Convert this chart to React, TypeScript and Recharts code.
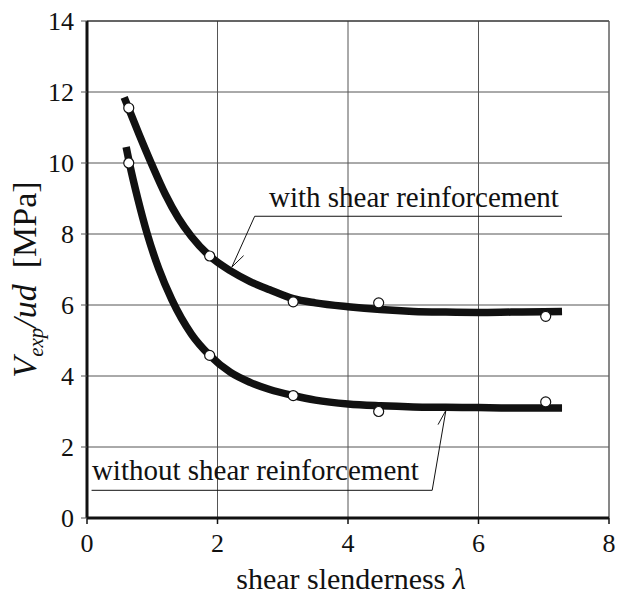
import React from "react";
import {
  ComposedChart,
  Line,
  Scatter,
  XAxis,
  YAxis,
  CartesianGrid,
  ReferenceLine,
  ReferenceDot,
} from "recharts";

const lambdaTicks = [0, 2, 4, 6, 8];
const stressTicks = [0, 2, 4, 6, 8, 10, 12, 14];

// fitted curves
const withCurve = [
  { x: 0.57, y: 11.85 },
  { x: 0.8, y: 10.8 },
  { x: 1.0, y: 9.93 },
  { x: 1.2, y: 9.12 },
  { x: 1.4, y: 8.45 },
  { x: 1.6, y: 7.93 },
  { x: 1.88, y: 7.38 },
  { x: 2.2, y: 6.96 },
  { x: 2.5, y: 6.66 },
  { x: 2.8, y: 6.43 },
  { x: 3.16, y: 6.18 },
  { x: 3.5, y: 6.06 },
  { x: 4.0, y: 5.95 },
  { x: 4.5, y: 5.87 },
  { x: 5.0, y: 5.82 },
  { x: 5.5, y: 5.8 },
  { x: 6.0, y: 5.79 },
  { x: 6.5, y: 5.8 },
  { x: 7.0, y: 5.81 },
  { x: 7.28, y: 5.82 },
];

const withoutCurve = [
  { x: 0.6, y: 10.45 },
  { x: 0.65, y: 10.0 },
  { x: 0.78, y: 8.98 },
  { x: 0.92, y: 8.02 },
  { x: 1.1, y: 7.02 },
  { x: 1.3, y: 6.15 },
  { x: 1.6, y: 5.18 },
  { x: 1.88, y: 4.58 },
  { x: 2.2, y: 4.1 },
  { x: 2.5, y: 3.82 },
  { x: 2.8, y: 3.62 },
  { x: 3.16, y: 3.45 },
  { x: 3.5, y: 3.32 },
  { x: 4.0, y: 3.21 },
  { x: 4.5, y: 3.16 },
  { x: 5.0, y: 3.13 },
  { x: 5.5, y: 3.12 },
  { x: 6.0, y: 3.11 },
  { x: 6.5, y: 3.1 },
  { x: 7.0, y: 3.1 },
  { x: 7.28, y: 3.1 },
];

// test results
const withTests = [
  { x: 0.64, y: 11.55 },
  { x: 1.88, y: 7.38 },
  { x: 3.16, y: 6.09 },
  { x: 4.47, y: 6.06 },
  { x: 7.03, y: 5.68 },
];

const withoutTests = [
  { x: 0.64, y: 10.0 },
  { x: 1.88, y: 4.58 },
  { x: 3.16, y: 3.45 },
  { x: 4.47, y: 3.0 },
  { x: 7.03, y: 3.27 },
];

const FONT = "Liberation Serif, Times New Roman, serif";

const openCircle = (p: any) => (
  <circle cx={p.cx} cy={p.cy} r={5} fill="#fff" stroke="#111" strokeWidth={1.2} />
);

const note = (txt: string) => (p: any) => (
  <text x={p.cx} y={p.cy} textAnchor="middle" fontFamily={FONT} fontSize={29} fill="#111">
    {txt}
  </text>
);

function YTitle({ viewBox }: any) {
  const cx = viewBox.x + 36;
  const cy = viewBox.y + viewBox.height / 2 + 10;
  return (
    <text
      x={cx}
      y={cy}
      transform={`rotate(-90, ${cx}, ${cy})`}
      textAnchor="middle"
      fontFamily={FONT}
      fontSize={34}
      fill="#111"
    >
      <tspan fontStyle="italic">V</tspan>
      <tspan fontStyle="italic" fontSize={21} dy={7}>exp</tspan>
      <tspan fontStyle="italic" dy={-7}>/ud</tspan>
      <tspan dx={16}>[MPa]</tspan>
    </text>
  );
}

function XTitle({ viewBox }: any) {
  return (
    <text
      x={viewBox.x + viewBox.width / 2 + 3}
      y={viewBox.y + 71}
      textAnchor="middle"
      fontFamily={FONT}
      fontSize={30}
      fill="#111"
    >
      shear slenderness{" "}
      <tspan fontStyle="italic">λ</tspan>
    </text>
  );
}

export default function App() {
  return (
    <div style={{ position: "absolute", left: 0, top: 0, background: "#fff", fontFamily: FONT }}>
      <ComposedChart width={618} height={599} margin={{ top: 21, right: 9, bottom: 0, left: 0 }}>
        <CartesianGrid stroke="#555" strokeWidth={1} />
        <XAxis
          type="number"
          dataKey="x"
          domain={[0, 8]}
          ticks={lambdaTicks}
          height={81}
          axisLine={{ stroke: "#111", strokeWidth: 3 }}
          tickLine={{ stroke: "#111", strokeWidth: 1.5 }}
          tickSize={6}
          tickMargin={10}
          tick={{ fontFamily: FONT, fontSize: 26, fill: "#111" }}
          label={<XTitle />}
        />
        <YAxis
          type="number"
          dataKey="y"
          domain={[0, 14]}
          ticks={stressTicks}
          width={87}
          axisLine={{ stroke: "#111", strokeWidth: 3 }}
          tickLine={{ stroke: "#555", strokeWidth: 1 }}
          tickSize={6}
          tickMargin={7}
          tick={{ fontFamily: FONT, fontSize: 26, fill: "#111" }}
          label={<YTitle />}
        />
        <ReferenceLine y={14} stroke="#222" strokeWidth={1.2} />
        <ReferenceLine x={8} stroke="#666" strokeWidth={1} />

        <Line
          data={withCurve}
          dataKey="y"
          type="monotone"
          stroke="#111"
          strokeWidth={7.5}
          dot={false}
          activeDot={false}
          isAnimationActive={false}
        />
        <Line
          data={withoutCurve}
          dataKey="y"
          type="monotone"
          stroke="#111"
          strokeWidth={7.5}
          dot={false}
          activeDot={false}
          isAnimationActive={false}
        />
        <Scatter data={withTests} dataKey="y" shape={openCircle} isAnimationActive={false} />
        <Scatter data={withoutTests} dataKey="y" shape={openCircle} isAnimationActive={false} />

        {/* callout: with shear reinforcement */}
        <ReferenceLine segment={[{ x: 2.57, y: 8.5 }, { x: 7.28, y: 8.5 }]} stroke="#111" strokeWidth={1} />
        <ReferenceLine segment={[{ x: 2.57, y: 8.5 }, { x: 2.22, y: 7.07 }]} stroke="#111" strokeWidth={1} />
        <ReferenceLine segment={[{ x: 2.22, y: 7.07 }, { x: 2.4, y: 7.39 }]} stroke="#111" strokeWidth={1} />
        <ReferenceDot x={5.01} y={8.77} r={0} shape={note("with shear reinforcement")} />

        {/* callout: without shear reinforcement */}
        <ReferenceLine segment={[{ x: 0.07, y: 0.78 }, { x: 5.29, y: 0.78 }]} stroke="#111" strokeWidth={1} />
        <ReferenceLine segment={[{ x: 5.29, y: 0.78 }, { x: 5.5, y: 3.03 }]} stroke="#111" strokeWidth={1} />
        <ReferenceLine segment={[{ x: 5.5, y: 3.03 }, { x: 5.38, y: 2.63 }]} stroke="#111" strokeWidth={1} />
        <ReferenceDot x={2.58} y={1.06} r={0} shape={note("without shear reinforcement")} />
      </ComposedChart>
    </div>
  );
}
